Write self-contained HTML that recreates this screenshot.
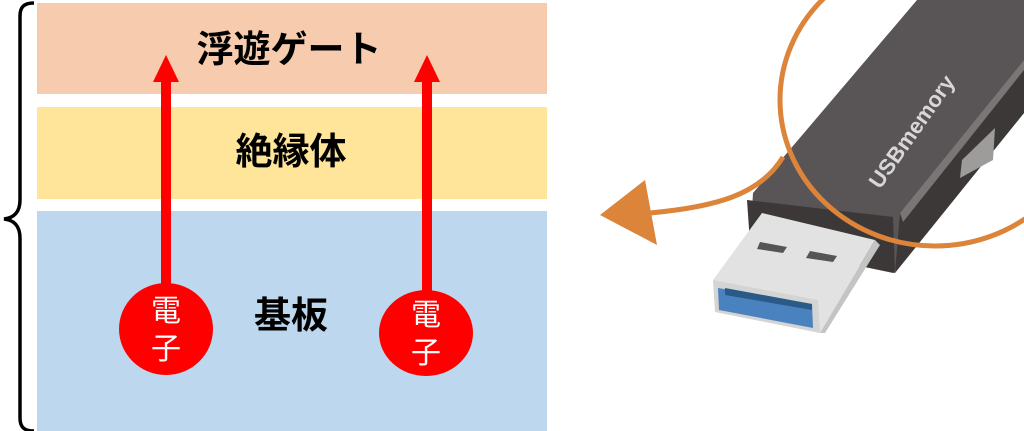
<!DOCTYPE html>
<html><head><meta charset="utf-8"><style>
html,body{margin:0;padding:0;background:#fff;width:1024px;height:431px;overflow:hidden}
svg text{font-family:"Liberation Sans","Noto Sans CJK JP",sans-serif}
</style></head><body>
<svg width="1024" height="431" viewBox="0 0 1024 431" xmlns="http://www.w3.org/2000/svg">
<rect x="37" y="3" width="510" height="91" fill="#f7cbad"/>
<rect x="37" y="107" width="510" height="92" fill="#fee599"/>
<rect x="37" y="211" width="510" height="220" fill="#bdd7ee"/>
<path d="M34,3 C24,3 20,7 20,16 L20,200 C20,212 14,218 4,219 C14,220 20,226 20,238 L20,418 C20,427 24,431 34,431" fill="none" stroke="#000" stroke-width="3.5"/>
<text x="289" y="62" font-size="37" font-weight="bold" text-anchor="middle">浮遊ゲート</text>
<text x="291" y="164" font-size="37" font-weight="bold" text-anchor="middle">絶縁体</text>
<text x="291" y="328" font-size="37" font-weight="bold" text-anchor="middle">基板</text>
<g fill="#ff0000">
<rect x="161" y="78" width="10" height="210"/>
<polygon points="166,55 153,82 179,82"/>
<ellipse cx="166" cy="329" rx="47" ry="46"/>
<rect x="422" y="78" width="10" height="215"/>
<polygon points="427,55 414,82 440,82"/>
<ellipse cx="426" cy="333" rx="47" ry="43"/>
</g>
<g fill="#fff" font-size="30" text-anchor="middle">
<text x="166" y="321">電</text><text x="166" y="359">子</text>
<text x="426" y="325">電</text><text x="426" y="363">子</text>
</g>
<!-- USB -->
<polygon points="753,193 917,0 1024,0 1024,113 893,273 750,243" fill="#595556"/>
<polygon points="900,213 1024,60 1024,113 895,273" fill="#3b3837"/>
<polygon points="900,213 1024,60 1024,70 903,222" fill="#7a7676"/>
<polygon points="747,200 893,217 895,273 750,243" fill="#3b3837"/>
<polygon points="962,160 995,128 993,160 960,178" fill="#9e9b9b"/>
<text x="0" y="0" font-size="22" font-weight="bold" fill="#d8d6d6" transform="translate(880,190) rotate(-55)">USBmemory</text>
<polygon points="762,213 875,240 820,333 713,280" fill="#e2e2e2"/>
<polygon points="875,240 880,245 825,333 820,333" fill="#c4c4c4"/>
<polygon points="713,280 818,300 820,333 715,312" fill="#d4d4d4"/>
<polygon points="718,288 812,304 813,328 719,310" fill="#4a82c0"/>
<polygon points="725,288 812,304 812,310 725,295" fill="#2a5a88"/>
<polygon points="760,242 787,247 783,253 757,249" fill="#555"/>
<polygon points="810,251 837,256 833,262 806,258" fill="#555"/>
<ellipse cx="935" cy="100" rx="155" ry="146" fill="none" stroke="#dc843a" stroke-width="5"/>
<path d="M783,157 C760,195 715,207 650,213" fill="none" stroke="#dc843a" stroke-width="5"/>
<polygon points="600,215 645,180 657,245" fill="#dc843a"/>
</svg>
</body></html>
